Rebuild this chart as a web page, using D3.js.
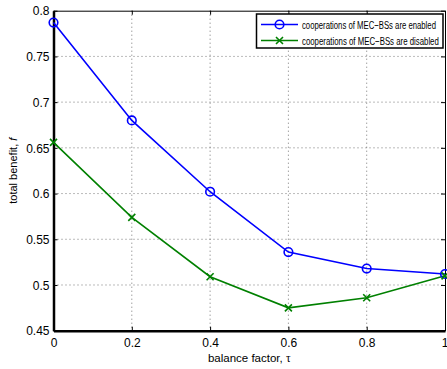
<!DOCTYPE html>
<html><head><meta charset="utf-8">
<script src="https://cdn.jsdelivr.net/npm/d3@7"></script>
<style>body{margin:0;background:#fff}svg{display:block}text{font-family:"Liberation Sans",Arial,sans-serif}</style>
</head><body>
<script>
const xValues = [0, 0.2, 0.4, 0.6, 0.8, 1];
const enabled = [0.787, 0.680, 0.602, 0.536, 0.518, 0.512];
const disabled = [0.656, 0.574, 0.509, 0.475, 0.486, 0.510];
const xTicks = [0, 0.2, 0.4, 0.6, 0.8, 1];
const yTicks = [0.45, 0.5, 0.55, 0.6, 0.65, 0.7, 0.75, 0.8];
const seriesNames = ["cooperations of MEC\u2212BSs are enabled", "cooperations of MEC\u2212BSs are disabled"];

const W = 447, H = 369;
const L = 53.5, R = 445, T = 10.7, B = 330.7;
const svg = d3.select("body").append("svg").attr("width", W).attr("height", H);
const x = d3.scaleLinear().domain([0, 1]).range([L, R]);
const y = d3.scaleLinear().domain([0.45, 0.8]).range([B, T]);

// grid
const g = svg.append("g");
g.selectAll(".gx").data(xTicks.slice(1, -1)).enter().append("line")
  .attr("x1", d => x(d)).attr("x2", d => x(d)).attr("y1", T).attr("y2", B)
  .attr("stroke", "#555").attr("stroke-width", 0.8).attr("stroke-dasharray", "1,3");
g.selectAll(".gy").data(yTicks.slice(1, -1)).enter().append("line")
  .attr("y1", d => y(d)).attr("y2", d => y(d)).attr("x1", L).attr("x2", R)
  .attr("stroke", "#555").attr("stroke-width", 0.8).attr("stroke-dasharray", "1,3");

// axes
const xa = svg.append("g").attr("transform", `translate(0,${B})`)
  .call(d3.axisBottom(x).tickValues(xTicks).tickFormat(d3.format("")).tickSizeInner(-4).tickSizeOuter(0).tickPadding(6));
const xt = svg.append("g").attr("transform", `translate(0,${T})`)
  .call(d3.axisTop(x).tickValues(xTicks).tickFormat("").tickSizeInner(-4).tickSizeOuter(0));
const ya = svg.append("g").attr("transform", `translate(${L},0)`)
  .call(d3.axisLeft(y).tickValues(yTicks).tickFormat(d3.format("")).tickSizeInner(-4).tickSizeOuter(0).tickPadding(4));
const yr = svg.append("g").attr("transform", `translate(${R},0)`)
  .call(d3.axisRight(y).tickValues(yTicks).tickFormat("").tickSizeInner(-4).tickSizeOuter(0));
[xa, xt, ya, yr].forEach(a => {
  a.selectAll("path").attr("stroke", "#000").attr("stroke-width", 1);
  a.selectAll("line").attr("stroke", "#000").attr("stroke-width", 1);
  a.selectAll("text").attr("font-size", 12).attr("fill", "#000")
    .attr("font-family", "'Liberation Sans',Arial,sans-serif");
});
xa.selectAll("path").attr("stroke-width", 2.5);
ya.selectAll("path").attr("stroke-width", 2.5);
xa.selectAll("text").attr("dy", "0.9em");
xa.selectAll(".tick").filter(d => d === 1).select("text").attr("text-anchor", "end").attr("dx", "3");
ya.selectAll("text").attr("dy", "0.35em");

// lines
const line = d3.line().x((d, i) => x(xValues[i])).y(d => y(d));
svg.append("path").datum(enabled).attr("d", line).attr("fill", "none").attr("stroke", "#0000ff").attr("stroke-width", 1.6);
svg.append("path").datum(disabled).attr("d", line).attr("fill", "none").attr("stroke", "#008000").attr("stroke-width", 1.6);
svg.selectAll(".mo").data(enabled).enter().append("circle")
  .attr("cx", (d, i) => x(xValues[i])).attr("cy", d => y(d)).attr("r", 4.3)
  .attr("fill", "none").attr("stroke", "#0000ff").attr("stroke-width", 1.6);
const cross = (sel, cx, cy) => sel.append("path")
  .attr("d", `M${cx-3.5},${cy-3.5}L${cx+3.5},${cy+3.5}M${cx-3.5},${cy+3.5}L${cx+3.5},${cy-3.5}`)
  .attr("stroke", "#008000").attr("stroke-width", 1.6).attr("fill", "none");
disabled.forEach((d, i) => cross(svg, x(xValues[i]), y(d)));

// legend
const lg = svg.append("g");
lg.append("rect").attr("x", 256.5).attr("y", 14).attr("width", 186.5).attr("height", 34)
  .attr("fill", "#fff").attr("stroke", "#000").attr("stroke-width", 1.5);
const ly = [24.5, 40.5];
lg.append("line").attr("x1", 261).attr("x2", 298).attr("y1", ly[0]).attr("y2", ly[0]).attr("stroke", "#0000ff").attr("stroke-width", 1.6);
lg.append("circle").attr("cx", 279.5).attr("cy", ly[0]).attr("r", 4.3).attr("fill", "none").attr("stroke", "#0000ff").attr("stroke-width", 1.6);
lg.append("line").attr("x1", 261).attr("x2", 298).attr("y1", ly[1]).attr("y2", ly[1]).attr("stroke", "#008000").attr("stroke-width", 1.6);
cross(lg, 279.5, ly[1]);
const lens = [134, 137];
seriesNames.forEach((s, i) => {
  const t = lg.append("text").attr("x", 0).attr("y", 0).attr("dy", "0.35em")
    .attr("font-size", 11.5).attr("fill", "#000").text(s);
  const w = t.node().getComputedTextLength();
  t.attr("transform", `translate(302,${ly[i]}) scale(${lens[i] / w},1)`);
});

// axis labels
const xl = svg.append("text").attr("x", (L + R) / 2).attr("y", 362).attr("text-anchor", "middle").attr("font-size", 11.5);
xl.append("tspan").text("balance factor, ");
xl.append("tspan").attr("font-family", "'Liberation Serif',serif").text("\u03c4");
const ylab = svg.append("text").attr("transform", `translate(17,${(T + B) / 2}) rotate(-90)`).attr("text-anchor", "middle").attr("font-size", 11);
ylab.append("tspan").text("total benefit, ");
ylab.append("tspan").attr("font-style", "italic").text("f");
</script>
</body></html>
